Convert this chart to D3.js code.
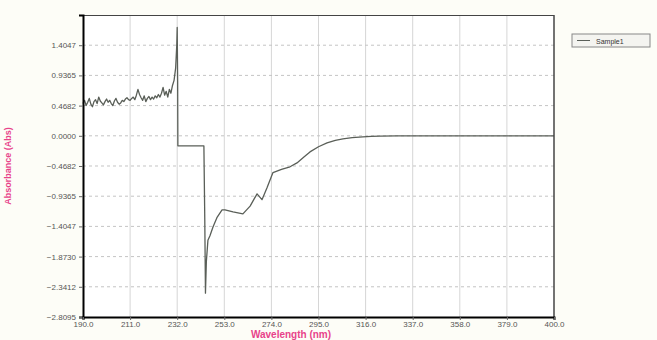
<!DOCTYPE html>
<html>
<head>
<meta charset="utf-8">
<script src="https://cdn.jsdelivr.net/npm/d3@7"></script>
<style>
  html, body { margin: 0; padding: 0; background: #fdfdf7; }
  svg { display: block; }
</style>
</head>
<body>
<svg id="chart" width="657" height="340"></svg>
<script>
// Spectrum: wavelength (nm) and absorbance (Abs)
const noisyWavelengths = [
  190.0,190.7,191.4,192.1,192.8,193.5,194.2,194.9,195.6,196.3,197.0,197.7,198.4,199.1,199.8,
  200.5,201.2,201.9,202.6,203.3,204.0,204.7,205.4,206.1,206.8,207.5,208.2,208.9,209.6,210.3,
  211.0,211.7,212.4,213.1,213.8,214.5,215.2,215.9,216.6,217.3,218.0,218.7,219.4,220.1,220.8,
  221.5,222.2,222.9,223.6,224.3,225.0,225.7,226.4,227.1,227.8,228.5,229.2,229.9,230.6,231.3
];
const noisyAbsorbance = [
  0.50,0.55,0.47,0.52,0.58,0.49,0.45,0.53,0.56,0.50,0.60,0.54,0.51,0.48,0.53,
  0.57,0.52,0.55,0.50,0.47,0.54,0.58,0.52,0.49,0.51,0.55,0.53,0.57,0.59,0.56,
  0.55,0.58,0.60,0.56,0.63,0.72,0.64,0.59,0.55,0.62,0.53,0.58,0.61,0.56,0.60,
  0.57,0.62,0.59,0.64,0.60,0.66,0.75,0.63,0.69,0.60,0.72,0.66,0.78,0.86,1.05
];
const tailWavelengths = [
  231.8,232.0,232.2,232.3,243.9,244.3,244.6,245.0,245.7,246.6,248.0,249.7,252.0,253.3,256.9,
  261.3,264.5,267.6,269.8,272.0,274.7,278.5,282.3,285.4,288.5,291.2,295.0,298.8,302.5,305.9,
  310.0,314.8,318.5,322.4,330.0,340.0,360.0,380.0,400.0
];
const tailAbsorbance = [
  1.40,1.68,0.85,-0.155,-0.155,-1.30,-2.44,-1.95,-1.62,-1.55,-1.41,-1.27,-1.15,-1.15,-1.18,
  -1.21,-1.09,-0.90,-0.99,-0.81,-0.57,-0.52,-0.48,-0.42,-0.33,-0.25,-0.17,-0.11,-0.07,-0.047,
  -0.028,-0.016,-0.009,-0.005,-0.002,0.0,0.0,0.0,0.0
];
const wavelengths = noisyWavelengths.concat(tailWavelengths);
const absorbance = noisyAbsorbance.concat(tailAbsorbance);

const xTicks = [190.0,211.0,232.0,253.0,274.0,295.0,316.0,337.0,358.0,379.0,400.0];
const yTicks = [-2.8095,-2.3412,-1.8730,-1.4047,-0.9365,-0.4682,0.0000,0.4682,0.9365,1.4047,1.8730];
const yLabelled = yTicks.slice(0, 10);
const seriesName = "Sample1";

const svg = d3.select("#chart");
const m = { left: 83, right: 554, top: 15, bottom: 317 };

const x = d3.scaleLinear().domain([190, 400]).range([m.left, m.right]);
const y = d3.scaleLinear().domain([-2.8095, 1.8730]).range([m.bottom, m.top]);

// plot area
svg.append("rect")
  .attr("x", m.left).attr("y", m.top)
  .attr("width", m.right - m.left).attr("height", m.bottom - m.top)
  .attr("fill", "#ffffff");

// vertical grid (solid)
svg.append("g").selectAll("line").data(xTicks.slice(1, -1)).join("line")
  .attr("x1", d => x(d)).attr("x2", d => x(d))
  .attr("y1", m.top).attr("y2", m.bottom)
  .attr("stroke", "#d6d6d6").attr("stroke-width", 1);

// horizontal grid (dashed)
svg.append("g").selectAll("line").data(yTicks.slice(1, -1)).join("line")
  .attr("x1", m.left).attr("x2", m.right)
  .attr("y1", d => y(d)).attr("y2", d => y(d))
  .attr("stroke", "#c4c4c4").attr("stroke-width", 1)
  .attr("stroke-dasharray", "3,3");

// spectrum
const pts = wavelengths.map((w, i) => [w, absorbance[i]]);
svg.append("path")
  .datum(pts)
  .attr("fill", "none")
  .attr("stroke", "#5a5f58")
  .attr("stroke-width", 1.3)
  .attr("stroke-linejoin", "round")
  .attr("d", d3.line().x(d => x(d[0])).y(d => y(d[1])));

// frame
svg.append("line").attr("x1", m.left).attr("x2", m.right).attr("y1", m.top + 0.5).attr("y2", m.top + 0.5)
  .attr("stroke", "#444").attr("stroke-width", 1);
svg.append("line").attr("x1", m.right).attr("x2", m.right).attr("y1", m.top).attr("y2", m.bottom)
  .attr("stroke", "#444").attr("stroke-width", 1.5);

// axes
const yAxis = d3.axisLeft(y).tickValues(yLabelled)
  .tickFormat(d3.format(".4f")).tickSize(4).tickPadding(3);
const gy = svg.append("g").attr("transform", `translate(${m.left},0)`).call(yAxis);
gy.select(".domain").attr("stroke", "#000").attr("stroke-width", 2);
gy.selectAll(".tick line").attr("stroke", "#666");
gy.selectAll(".tick text").attr("fill", "#555").attr("font-size", 8)
  .attr("font-family", "Liberation Sans, Arial, sans-serif");

const xAxis = d3.axisBottom(x).tickValues(xTicks)
  .tickFormat(d3.format(".1f")).tickSize(3).tickPadding(1);
const gx = svg.append("g").attr("transform", `translate(0,${m.bottom})`).call(xAxis);
gx.select(".domain").attr("stroke", "#000").attr("stroke-width", 2);
gx.selectAll(".tick line").attr("stroke", "#666");
gx.selectAll(".tick text").attr("fill", "#555").attr("font-size", 8)
  .attr("font-family", "Liberation Sans, Arial, sans-serif");

// axis titles
svg.append("text")
  .attr("transform", "translate(11,166) rotate(-90)")
  .attr("text-anchor", "middle")
  .attr("fill", "#e8438a").attr("font-size", 9).attr("font-weight", "bold")
  .attr("font-family", "Liberation Sans, Arial, sans-serif")
  .text("Absorbance (Abs)");
svg.append("text")
  .attr("x", 291).attr("y", 338)
  .attr("text-anchor", "middle")
  .attr("fill", "#e8438a").attr("font-size", 10).attr("font-weight", "bold")
  .attr("font-family", "Liberation Sans, Arial, sans-serif")
  .text("Wavelength (nm)");

// legend
const lg = svg.append("g").attr("transform", "translate(572,34)");
lg.append("rect").attr("width", 78).attr("height", 13)
  .attr("fill", "#f4f4f0").attr("stroke", "#888").attr("stroke-width", 1);
lg.append("line").attr("x1", 5).attr("x2", 18).attr("y1", 6.5).attr("y2", 6.5)
  .attr("stroke", "#5a5f58").attr("stroke-width", 1);
lg.append("text").attr("x", 24).attr("y", 9.5)
  .attr("fill", "#333").attr("font-size", 7)
  .attr("font-family", "Liberation Sans, Arial, sans-serif")
  .text(seriesName);
</script>
</body>
</html>
